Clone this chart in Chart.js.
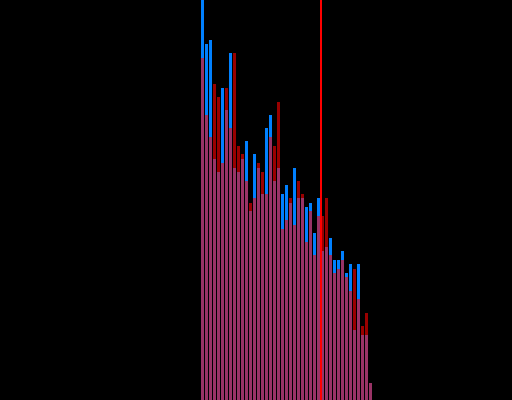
<!DOCTYPE html>
<html>
<head>
<meta charset="utf-8">
<script src="https://cdn.jsdelivr.net/npm/chart.js@4/dist/chart.umd.min.js"></script>
<style>
  html, body { margin: 0; padding: 0; background: #000; }
  #wrap { width: 512px; height: 400px; position: relative; background: #000; }
  canvas { display: block; }
</style>
</head>
<body>
<div id="wrap"><canvas id="c" width="512" height="400"></canvas></div>
<script>
// Bin labels (histogram bins)
const bins = Array.from({length: 43}, (_, i) => String(i));
// Series A (blue)
const seriesBlue = [400,356,360,241,228,312,290,347,232,228,241,259,189,246,232,206,272,285,219,232,206,215,197,232,202,202,193,197,167,202,149,153,162,140,140,149,127,136,70,136,65,65,17];
// Series B (red, drawn translucent over A)
const seriesRed = [342,285,263,316,303,237,312,272,347,254,246,219,197,202,237,228,206,263,254,298,171,180,202,175,219,206,158,189,145,184,184,202,145,127,131,140,123,109,131,101,74,87,17];
// Marker (mean) position, in bin units
const markerBin = [29.625];
const yMax = 400;

const markerPlugin = {
  id: 'marker',
  afterDatasetsDraw(chart) {
    const {ctx, chartArea, scales} = chart;
    ctx.save();
    ctx.strokeStyle = '#ff0000';
    ctx.lineWidth = 2;
    markerBin.forEach(v => {
      const x = scales.x.getPixelForValue(v);
      ctx.beginPath();
      ctx.moveTo(x, chartArea.top);
      ctx.lineTo(x, chartArea.bottom);
      ctx.stroke();
    });
    ctx.restore();
  }
};

new Chart(document.getElementById('c'), {
  type: 'bar',
  data: {
    labels: bins,
    datasets: [
      {
        label: 'B',
        data: seriesRed,
        backgroundColor: 'rgba(255,0,0,0.6)',
        borderWidth: 0,
        order: 0
      },
      {
        label: 'A',
        data: seriesBlue,
        backgroundColor: '#0080ff',
        borderWidth: 0,
        order: 1
      }
    ]
  },
  options: {
    responsive: false,
    animation: false,
    devicePixelRatio: 1,
    layout: { padding: { left: 200.5, right: 139.5, top: 0, bottom: 0 } },
    datasets: {
      bar: { grouped: false, categoryPercentage: 1.0, barPercentage: 0.75 }
    },
    plugins: { legend: { display: false }, tooltip: { enabled: false } },
    scales: {
      x: { display: false, offset: true, grid: { display: false } },
      y: { display: false, min: 0, max: yMax, grid: { display: false } }
    }
  },
  plugins: [markerPlugin]
});
</script>
</body>
</html>
